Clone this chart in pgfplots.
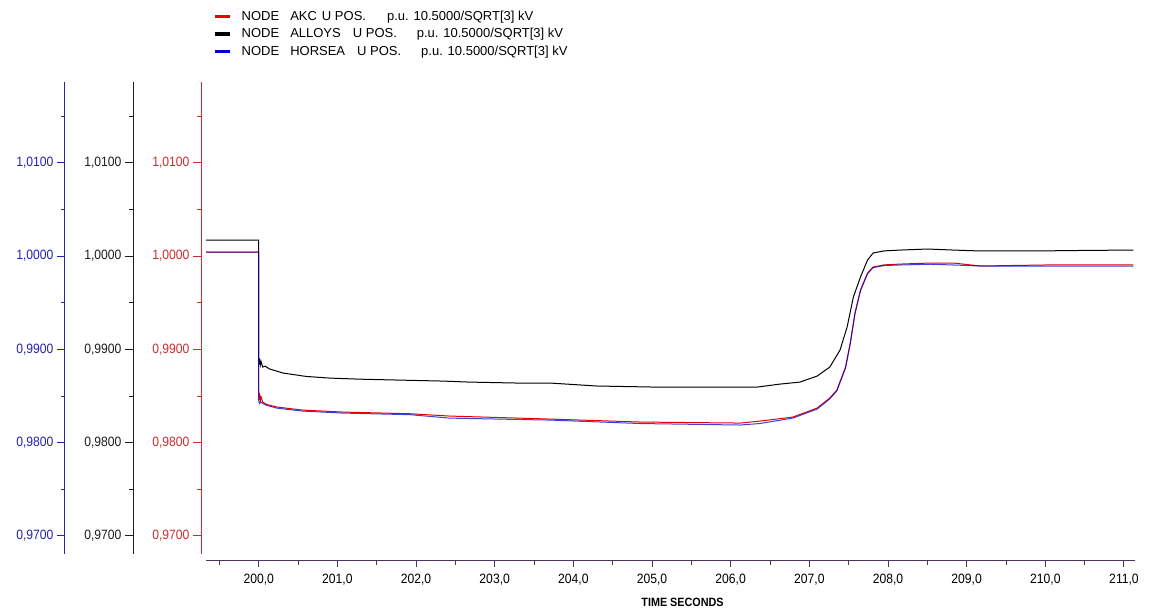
\documentclass[border=0pt]{standalone}
\usepackage{fontspec}
\setmainfont{Liberation Sans}
\newfontfamily\narrow{Liberation Sans}[FakeStretch=0.9]
\usepackage{pgfplots}
\pgfplotsset{compat=1.18}
\definecolor{lred}{RGB}{230,0,0}
\definecolor{lblue}{RGB}{0,0,205}
\definecolor{axred}{RGB}{205,45,45}
\definecolor{axblue}{RGB}{35,35,175}
\definecolor{axblack}{RGB}{30,30,30}
\definecolor{axx}{RGB}{80,50,90}

\pgfplotstableread{
t v
199.33 1.00170
200.0 1.00170
200.0 0.98920
200.005 0.98840
200.01 0.98900
200.02 0.98830
200.03 0.98870
200.05 0.98810
200.08 0.98820
200.14 0.98789
200.31 0.98746
200.60 0.98710
200.90 0.98692
201.30 0.98680
201.76 0.98671
202.34 0.98660
202.68 0.98649
203.28 0.98639
203.70 0.98639
204.30 0.98607
205.01 0.98596
206.34 0.98596
206.63 0.98628
206.88 0.98649
207.10 0.98714
207.26 0.98810
207.39 0.98992
207.48 0.99239
207.56 0.99561
207.65 0.99775
207.74 0.99957
207.81 1.00032
207.95 1.00055
208.16 1.00064
208.50 1.00075
208.83 1.00064
209.17 1.00054
209.85 1.00054
210.50 1.00060
211.12 1.00064
}\blackdata

\pgfplotstableread{
t v
199.33 1.00043
200.0 1.00043
200.0 0.98564
200.005 0.98460
200.01 0.98530
200.02 0.98450
200.03 0.98490
200.05 0.98435
200.10 0.98410
200.23 0.98382
200.56 0.98349
201.07 0.98328
201.92 0.98310
202.43 0.98285
203.70 0.98253
204.85 0.98221
206.12 0.98210
206.37 0.98231
206.79 0.98274
207.10 0.98371
207.26 0.98478
207.35 0.98564
207.46 0.98810
207.52 0.99068
207.58 0.99389
207.65 0.99636
207.74 0.99818
207.81 0.99882
207.95 0.99905
208.16 0.99914
208.54 0.99925
208.83 0.99925
209.17 0.99893
210.00 0.99904
211.12 0.99904
}\reddata

\pgfplotstableread{
t v
199.33 1.00043
200.0 1.00043
200.0 0.98450
200.01 0.98420
200.02 0.98440
200.05 0.98420
200.10 0.98400
200.23 0.98370
200.56 0.98338
201.07 0.98317
201.92 0.98300
202.43 0.98263
203.70 0.98242
204.85 0.98205
206.12 0.98189
206.37 0.98205
206.79 0.98263
207.10 0.98360
207.26 0.98470
207.35 0.98555
207.46 0.98800
207.52 0.99060
207.58 0.99380
207.65 0.99628
207.74 0.99810
207.81 0.99875
207.95 0.99898
208.16 0.99904
208.54 0.99912
208.83 0.99904
209.17 0.99893
210.00 0.99893
211.12 0.99893
}\bluedata

\pgfplotsset{
  yax/.style={
    scale only axis, width=20pt, height=472pt,
    ymin=0.96807, ymax=1.01865, xmin=0, xmax=1,
    hide x axis, axis y line=left,
    axis line style={-, #1, line width=1pt},
    ytick={0.97,0.98,0.99,1.00,1.01},
    minor ytick={0.975,0.985,0.995,1.005,1.015},
    tick align=outside, major tick length=8pt, minor tick length=4pt,
    every tick/.style={#1, line width=1pt},
    /pgf/number format/assume math mode=true,
    yticklabel style={font=\narrow\fontsize{13.5}{15}\selectfont, text=#1,
      /pgf/number format/.cd, fixed, fixed zerofill, precision=4, use comma},
    anchor=south west,
  }
}

\begin{document}
\begin{tikzpicture}
\path[use as bounding box] (0,0) rectangle (1149pt,612pt);

% blue, black, red y axes
\begin{axis}[yax=axblue, at={(65pt,58pt)}]
\end{axis}
\begin{axis}[yax=axblack, at={(133pt,58pt)}]
\end{axis}
\begin{axis}[yax=axred, at={(201pt,58pt)}]
\end{axis}

% x axis
\begin{axis}[
  scale only axis, width=929pt, height=10pt,
  at={(206pt,51pt)}, anchor=south west,
  xmin=199.33, xmax=211.14, ymin=0, ymax=1,
  hide y axis, axis x line=bottom,
  axis line style={-, axx, line width=1pt},
  xtick={200,201,202,203,204,205,206,207,208,209,210,211},
  minor xtick={199.5,200.5,201.5,202.5,203.5,204.5,205.5,206.5,207.5,208.5,209.5,210.5},
  tick align=outside, major tick length=6pt, minor tick length=4pt,
  every tick/.style={axx, line width=1pt},
  /pgf/number format/assume math mode=true,
  xticklabel style={font=\narrow\fontsize{13.5}{15}\selectfont, yshift=-4pt,
    /pgf/number format/.cd, fixed, fixed zerofill, precision=1, use comma},
  xlabel={TIME SECONDS},
  xlabel style={font=\narrow\fontsize{12}{14}\selectfont\bfseries, xshift=12pt, yshift=-6pt},
]
\end{axis}

% data
\begin{axis}[
  scale only axis, width=929pt, height=472pt,
  at={(206pt,58pt)}, anchor=south west,
  xmin=199.33, xmax=211.14, ymin=0.96807, ymax=1.01865,
  hide axis,
  legend style={at={(axis description cs:0,1)}, anchor=north west,
    xshift=4pt, yshift=75pt, draw=none, fill=none,
    font=\fontsize{13}{14}\selectfont,
    row sep=2.5pt,
    nodes={inner sep=1pt, text height=10pt, text depth=3pt},
    /tikz/every odd column/.append style={column sep=9pt}},
  legend cell align=left,
  legend image code/.code={\draw[line width=3.5pt, #1] (0pt,0pt) -- (15pt,0pt);},
]
\addplot[lred, line width=1pt, forget plot] table[x=t,y=v] {\reddata};
\addplot[black, line width=1pt, forget plot] table[x=t,y=v] {\blackdata};
\addplot[lblue, line width=1pt, opacity=0.75, forget plot] table[x=t,y=v] {\bluedata};
\addlegendimage{lred}
\addlegendentry{NODE\hspace{11pt}AKC\hspace{5pt}U POS.\hspace{21pt}p.u. 10.5000/SQRT[3] kV}
\addlegendimage{black}
\addlegendentry{NODE\hspace{11pt}ALLOYS\hspace{12pt}U POS.\hspace{20pt}p.u. 10.5000/SQRT[3] kV}
\addlegendimage{lblue}
\addlegendentry{NODE\hspace{11pt}HORSEA\hspace{12pt}U POS.\hspace{20pt}p.u. 10.5000/SQRT[3] kV}
\end{axis}
\end{tikzpicture}
\end{document}
